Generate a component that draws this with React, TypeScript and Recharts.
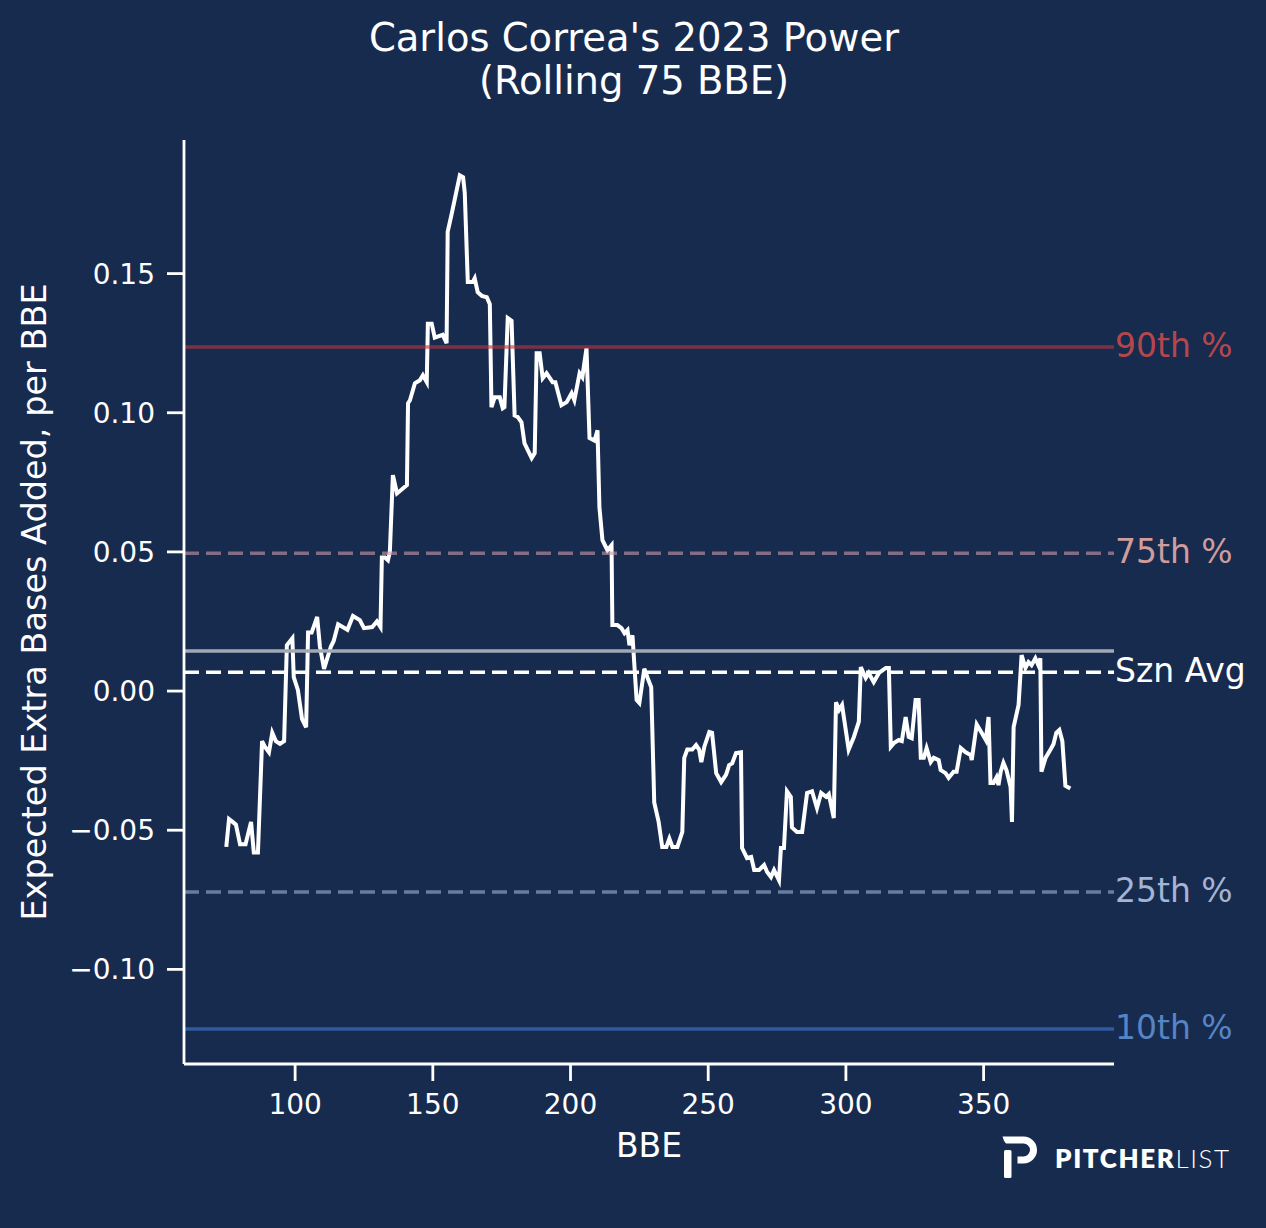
import React from 'react';
import { LineChart, Line, XAxis, YAxis, ReferenceLine } from 'recharts';

const bbe = [
  75, 76, 77.3, 78.5, 80, 82, 84, 85, 86.5, 88, 89, 90.5, 91.7, 93, 94.5, 96, 97, 99, 99.5, 101,
  102.5, 104, 104.7, 106, 108, 109, 110.5, 113, 114, 115.6, 119, 121, 123.5, 125, 128, 129.7, 131, 131.5, 132.6, 133.7,
  134.4, 135.5, 137, 140.6, 141, 141.7, 143.5, 145.3, 146.4, 147.8, 148.2, 149.6, 150.7, 153.6, 155, 155.4, 156.9, 159.8, 161, 161.6,
  162.7, 164.5, 165.2, 166.3, 167.8, 169.6, 170.7, 171.3, 172.5, 174.3, 175.4, 176, 177.2, 178.6, 179.7, 180.8, 182.2, 183.3, 185.9, 187,
  187.7, 188.8, 189.9, 191.3, 193.5, 194.5, 196.7, 198.6, 200.4, 201.4, 203.3, 204.3, 205.8, 206.9, 208.7, 209.8, 210.5, 211.6, 213.4, 214.9,
  215.2, 217, 218.5, 219.6, 220.7, 221.4, 222.5, 224, 225, 226.8, 228, 229.3, 230.4, 232, 233.3, 234.8, 235.9, 237, 238.8, 240.6,
  241.3, 242.4, 244.2, 245.6, 246.7, 247.5, 248.6, 250.4, 251.4, 252.9, 254.7, 256.5, 257.6, 258.7, 260.1, 261.9, 262.3, 264.1, 265.6, 266.7,
  268.5, 270.3, 271.4, 272.8, 273.9, 275.7, 276.4, 277.5, 278.6, 280, 280.4, 282.2, 284.1, 285.9, 287.7, 289.5, 291, 292.8, 293.8, 295.6,
  296.4, 297.5, 298.6, 301, 302.9, 304.7, 305.4, 307.2, 308.3, 310.1, 312, 314.5, 315.6, 316.3, 317.4, 319.2, 320.3, 321.7, 322.8, 323.9,
  325.3, 326.4, 327.2, 328.3, 329.3, 330.8, 331.9, 333.7, 334.4, 336.2, 337.3, 339.1, 340.2, 341.7, 343.5, 345.3, 345.7, 347.5, 349.3, 350.8,
  351.8, 352.5, 353.6, 354.7, 355.4, 356.2, 357.2, 358.3, 359.8, 360.3, 360.9, 362.7, 363.8, 365.2, 366.3, 367.4, 368.8, 369.9, 370.6, 371,
  372.5, 374.3, 375.4, 376.4, 377.5, 378.6, 379.7, 381.5,
];

const xeba = [
  -0.056, -0.046, -0.047, -0.048, -0.055, -0.055, -0.047, -0.058, -0.058, -0.018, -0.020, -0.022, -0.015, -0.018, -0.019, -0.018, 0.0165, 0.019, 0.005, 0.0004,
  -0.010, -0.013, 0.021, 0.021, 0.0266, 0.016, 0.008, 0.016, 0.018, 0.024, 0.022, 0.027, 0.0255, 0.0226, 0.023, 0.025, 0.023, 0.048, 0.048, 0.047,
  0.050, 0.0776, 0.071, 0.074, 0.1034, 0.1045, 0.1106, 0.1117, 0.1135, 0.111, 0.132, 0.132, 0.127, 0.128, 0.125, 0.165, 0.1717, 0.1853, 0.1846, 0.179,
  0.147, 0.147, 0.1483, 0.1433, 0.142, 0.1415, 0.139, 0.102, 0.1056, 0.1056, 0.1016, 0.102, 0.134, 0.133, 0.099, 0.0985, 0.0966, 0.089, 0.0837, 0.0855,
  0.1214, 0.1214, 0.1124, 0.1142, 0.111, 0.111, 0.1027, 0.1038, 0.107, 0.1045, 0.1142, 0.1128, 0.1232, 0.0909, 0.090, 0.0937, 0.066, 0.0542, 0.0506, 0.0524,
  0.0237, 0.0237, 0.0226, 0.0208, 0.0219, 0.0165, 0.020, -0.0032, -0.0043, 0.008, 0.0047, 0.0014, -0.040, -0.047, -0.056, -0.056, -0.053, -0.056, -0.056, -0.0506,
  -0.024, -0.021, -0.021, -0.0194, -0.021, -0.0255, -0.020, -0.0147, -0.015, -0.0295, -0.0327, -0.030, -0.0266, -0.026, -0.0223, -0.022, -0.0564, -0.060, -0.0596, -0.0643,
  -0.0643, -0.0625, -0.065, -0.0668, -0.0643, -0.068, -0.0564, -0.0564, -0.036, -0.038, -0.049, -0.0506, -0.0506, -0.0366, -0.036, -0.042, -0.0366, -0.038, -0.037, -0.0456,
  -0.004, -0.0068, -0.005, -0.021, -0.0165, -0.011, 0.0086, 0.0047, 0.0065, 0.0032, 0.0065, 0.0083, 0.0083, -0.020, -0.0187, -0.0176, -0.018, -0.0093, -0.0165, -0.017,
  -0.0032, -0.0032, -0.024, -0.024, -0.0205, -0.0255, -0.024, -0.0248, -0.0284, -0.0295, -0.0312, -0.029, -0.029, -0.0205, -0.022, -0.023, -0.0248, -0.012, -0.015, -0.0176,
  -0.0093, -0.033, -0.033, -0.031, -0.0338, -0.029, -0.0258, -0.0284, -0.0345, -0.047, -0.0129, -0.005, 0.0129, 0.0083, 0.0104, 0.0093, 0.0118, 0.0093, 0.0118, -0.029,
  -0.024, -0.021, -0.019, -0.015, -0.014, -0.018, -0.034, -0.035,
];

const xTicks = [100, 150, 200, 250, 300, 350];
const yTicks = [-0.1, -0.05, 0, 0.05, 0.1, 0.15];

const pct90 = 0.1236;
const pct75 = 0.0495;
const pct25 = -0.0722;
const pct10 = -0.1214;
const leagueAvg = 0.0144;
const seasonAvg = 0.0068;

const data = bbe.map((b, i) => ({ bbe: b, xeba: xeba[i] }));

const BG = '#172b4f';
const FONT = '"DejaVu Sans", sans-serif';

const fmtY = (v: number) => (v < 0 ? '\u2212' : '') + Math.abs(v).toFixed(2);

const lbl = (value: string, fill: string) => ({
  value,
  position: 'right' as const,
  offset: 1,
  fill,
  fontSize: 33,
  fontFamily: FONT,
  dy: -2,
});

export default function App() {
  return (
    <div style={{ position: 'relative', width: 1266, height: 1228, background: BG, fontFamily: FONT }}>
      <style>{`body{margin:0;background:${BG};}`}</style>
      <LineChart
        width={1266}
        height={1228}
        data={data}
        margin={{ top: 140, right: 152, bottom: 104, left: 100 }}
      >
        <XAxis
          dataKey="bbe"
          type="number"
          domain={[59.65, 397.35]}
          ticks={xTicks}
          allowDataOverflow
          height={60}
          axisLine={{ stroke: '#ffffff', strokeWidth: 2.8 }}
          tickLine={{ stroke: '#ffffff', strokeWidth: 2.8 }}
          tickSize={17}
          tickMargin={13}
          tick={{ fill: '#ffffff', fontSize: 28, fontFamily: FONT }}
        />
        <YAxis
          type="number"
          domain={[-0.134, 0.198]}
          ticks={yTicks}
          allowDataOverflow
          width={84}
          tickFormatter={fmtY}
          axisLine={{ stroke: '#ffffff', strokeWidth: 2.8 }}
          tickLine={{ stroke: '#ffffff', strokeWidth: 2.8 }}
          tickSize={17}
          tickMargin={12}
          tick={{ fill: '#ffffff', fontSize: 28, fontFamily: FONT }}
        />
        <Line
          dataKey="xeba"
          type="linear"
          stroke="#ffffff"
          strokeWidth={4}
          dot={false}
          activeDot={false}
          isAnimationActive={false}
        />
        <ReferenceLine
          y={pct90}
          stroke="#b8353f"
          strokeOpacity={0.62}
          strokeWidth={3.5}
          label={lbl('90th %', '#b5474c')}
        />
        <ReferenceLine
          y={pct75}
          stroke="#c99aa8"
          strokeOpacity={0.6}
          strokeWidth={3.5}
          strokeDasharray="15 7"
          label={lbl('75th %', '#d09c9c')}
        />
        <ReferenceLine y={leagueAvg} stroke="#a3a9b4" strokeWidth={3.5} />
        <ReferenceLine
          y={seasonAvg}
          stroke="#ffffff"
          strokeWidth={3.5}
          strokeDasharray="15 7"
          label={lbl('Szn Avg', '#ffffff')}
        />
        <ReferenceLine
          y={pct25}
          stroke="#9fb2d2"
          strokeOpacity={0.6}
          strokeWidth={3.5}
          strokeDasharray="15 7"
          label={lbl('25th %', '#a3b4d4')}
        />
        <ReferenceLine
          y={pct10}
          stroke="#2f5a9e"
          strokeWidth={3.5}
          label={lbl('10th %', '#5684c4')}
        />
      </LineChart>
      <svg
        width={1266}
        height={1228}
        style={{ position: 'absolute', left: 0, top: 0, pointerEvents: 'none' }}
      >
        <text x={634} y={51} textAnchor="middle" fill="#ffffff" fontSize={38.5} fontFamily={FONT}>
          Carlos Correa's 2023 Power
        </text>
        <text x={634} y={94} textAnchor="middle" fill="#ffffff" fontSize={38.5} fontFamily={FONT}>
          (Rolling 75 BBE)
        </text>
        <text x={649} y={1157} textAnchor="middle" fill="#ffffff" fontSize={33} fontFamily={FONT}>
          BBE
        </text>
        <text
          x={46}
          y={602}
          textAnchor="middle"
          fill="#ffffff"
          fontSize={33.5}
          fontFamily={FONT}
          transform="rotate(-90 46 602)"
        >
          Expected Extra Bases Added, per BBE
        </text>
        <g fill="#ffffff">
          <rect x={1004} y={1150} width={7.5} height={28} rx={1.5} />
          <path
            d="M1002.5,1136.5 L1023.5,1136.5 A13.5,13.5 0 0 1 1023.5,1163.5 L1017.5,1163.5 L1017.5,1156.5 L1023.5,1156.5 A6.5,6.5 0 0 0 1023.5,1143.5 L1006,1143.5 Q1003.5,1141 1002.5,1136.5 Z"
          />
        </g>
        <text x={1055} y={1168} fill="#ffffff" fontSize={26} fontFamily="Lato, 'Open Sans', sans-serif" letterSpacing={1.6}>
          <tspan fontWeight={800}>PITCHER</tspan>
          <tspan fontWeight={300}>LIST</tspan>
        </text>
      </svg>
    </div>
  );
}
